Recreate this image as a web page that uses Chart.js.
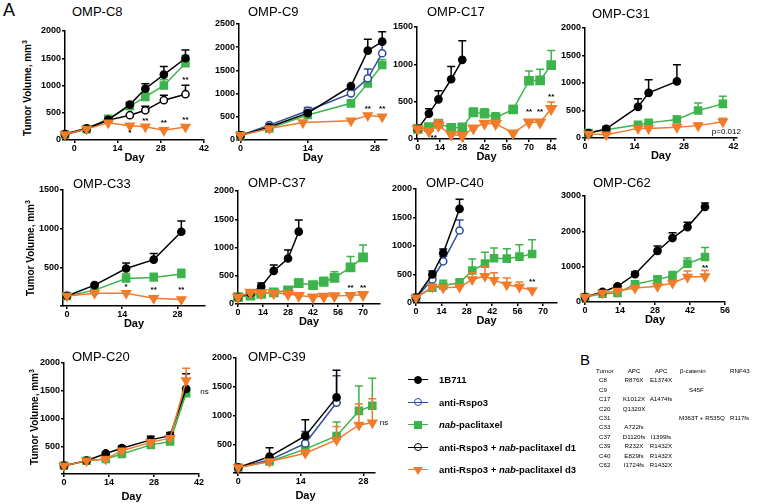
<!DOCTYPE html>
<html>
<head>
<meta charset="utf-8">
<script src="https://cdn.jsdelivr.net/npm/chart.js@4.4.0/dist/chart.umd.min.js"></script>
<style>
body{margin:0;background:#fff;width:760px;height:504px;position:relative;overflow:hidden;font-family:"Liberation Sans",Arial,sans-serif;color:#000}
canvas{position:absolute}
.t{position:absolute;white-space:nowrap;line-height:1}
.ttl{font-size:13px}
.day{font-size:11px;font-weight:bold;transform:translate(-50%,-50%)}
.ylab{font-size:10px;font-weight:bold;transform:translate(-50%,-50%) rotate(-90deg)}
.ylab sup{font-size:7px;vertical-align:4px;line-height:0}
.leg{font-size:9.5px;font-weight:bold}
.tb{font-size:6.2px}
</style>
</head>
<body>
<div class="t" style="left:3px;top:1px;font-size:18px">A</div>
<div class="t" id="labB" style="left:580px;top:352px;font-size:15px">B</div>
<script>
// ---- data (days, mean tumor volume, upper SEM) ----
const c8Days = [-3, 4, 11, 18, 23, 29, 36];
const c8Ctrl = [110, 215, 370, 650, 940, 1200, 1500];
const c8CtrlErr = [10, 15, 20, 30, 90, 150, 150];
const c8Nab = [100, 200, 390, 620, 790, 1000, 1410];
const c8NabErr = [10, 10, 15, 80, 75, 105, 140];
const c8D1 = [100, 200, 365, 455, 545, 730, 840];
const c8D1Err = [10, 10, 15, 20, 75, 90, 165];
const c8D3 = [100, 200, 315, 260, 245, 180, 240];
const c8D3Err = [10, 10, 15, 20, 25, 20, 25];

const c9Days = [0, 6, 14, 23, 26.5, 29.5];
const c9DaysD3 = [0, 6, 13, 23, 26.5, 29.5];
const c9Ctrl = [100, 280, 580, 1160, 1925, 2120];
const c9CtrlErr = [10, 20, 30, 25, 245, 215];
const c9Rspo = [100, 320, 630, 1005, 1330, 1870];
const c9RspoErr = [10, 15, 70, 85, 200, 230];
const c9Nab = [100, 250, 540, 790, 1220, 1615];
const c9NabErr = [10, 10, 70, 70, 70, 120];
const c9D3 = [100, 250, 375, 415, 530, 500];
const c9D3Err = [10, 10, 15, 15, 20, 15];

const c17DaysCtrl = [0, 7, 13, 21, 28];
const c17Days = [0, 7, 13, 21, 28, 35, 42, 49, 60, 70, 77, 84];
const c17Ctrl = [135, 340, 530, 800, 1060];
const c17CtrlErr = [0, 65, 115, 170, 255];
const c17Nab = [135, 160, 205, 150, 155, 355, 340, 285, 395, 780, 785, 990];
const c17NabErr = [0, 10, 45, 10, 10, 60, 65, 65, 55, 130, 150, 195];
const c17D3 = [135, 105, 180, 60, 45, 145, 210, 205, 80, 225, 225, 405];
const c17D3Err = [0, 10, 75, 10, 10, 10, 35, 45, 10, 20, 20, 90];

const c31DaysCtrl = [1, 6, 15, 18, 26];
const c31Days = [1, 6, 15, 18, 26, 32, 39];
const c31Ctrl = [90, 165, 565, 820, 1030];
const c31CtrlErr = [0, 20, 150, 240, 300];
const c31Nab = [90, 150, 240, 275, 335, 500, 620];
const c31NabErr = [0, 10, 20, 20, 60, 135, 140];
const c31D3 = [75, 60, 175, 175, 195, 225, 295];
const c31D3Err = [0, 0, 20, 15, 20, 50, 65];

const c33Days = [0, 7, 15, 22, 29];
const c33Ctrl = [130, 270, 485, 600, 960];
const c33CtrlErr = [0, 15, 70, 80, 140];
const c33Nab = [130, 205, 355, 370, 415];
const c33NabErr = [0, 10, 65, 55, 60];
const c33D3 = [130, 165, 165, 100, 85];
const c33D3Err = [0, 5, 5, 5, 5];

const c37DaysCtrl = [0, 7, 13, 20, 28, 34];
const c37Days = [0, 7, 13, 20, 28, 34, 42, 48, 54, 63, 70];
const c37Ctrl = [123, 190, 310, 585, 805, 1280];
const c37CtrlErr = [0, 10, 60, 105, 150, 205];
const c37Nab = [123, 147, 180, 205, 240, 370, 335, 393, 463, 650, 825];
const c37NabErr = [0, 10, 10, 10, 15, 70, 45, 80, 110, 190, 220];
const c37D3 = [123, 205, 195, 195, 180, 150, 123, 135, 145, 150, 165];
const c37D3Err = [0, 30, 30, 30, 35, 30, 30, 30, 30, 35, 35];

const c40DaysCtrl = [0, 9, 15, 24];
const c40Days = [0, 9, 15, 24, 31, 38, 43, 50, 57, 64];
const c40Ctrl = [93, 500, 877, 1650];
const c40CtrlErr = [0, 60, 70, 170];
const c40Rspo = [93, 413, 732, 1272];
const c40RspoErr = [0, 30, 90, 185];
const c40Nab = [93, 267, 308, 354, 569, 691, 784, 778, 813, 860];
const c40NabErr = [0, 10, 90, 70, 205, 200, 180, 175, 210, 250];
const c40D3 = [93, 279, 267, 279, 412, 471, 401, 320, 279, 221];
const c40D3Err = [0, 10, 10, 10, 120, 175, 130, 120, 90, 20];

const c62Days = [0, 7, 13, 20, 29, 35, 41, 48];
const c62Ctrl = [140, 285, 445, 785, 1445, 1810, 2120, 2690];
const c62CtrlErr = [0, 20, 30, 65, 140, 150, 140, 110];
const c62Nab = [140, 235, 255, 500, 640, 735, 1085, 1275];
const c62NabErr = [0, 10, 15, 30, 85, 130, 160, 265];
const c62D3 = [140, 255, 310, 395, 445, 540, 705, 725];
const c62D3Err = [0, 10, 15, 20, 30, 40, 170, 170];

const c20Days = [0, 7, 13, 18, 27, 33, 38];
const c20Ctrl = [150, 240, 370, 465, 615, 690, 1535];
const c20CtrlErr = [0, 10, 15, 40, 65, 60, 270];
const c20Nab = [150, 240, 270, 360, 525, 585, 1455];
const c20NabErr = [0, 10, 10, 15, 15, 20, 50];
const c20D3 = [150, 240, 270, 420, 570, 645, 1685];
const c20D3Err = [0, 10, 10, 20, 20, 20, 220];

const c39DaysCtrl = [0, 7, 15, 22];
const c39Days = [0, 7, 15, 22, 27, 30];
const c39Ctrl = [95, 285, 645, 1315];
const c39CtrlErr = [0, 155, 280, 470];
const c39Rspo = [95, 225, 515, 1225];
const c39RspoErr = [0, 40, 205, 465];
const c39Nab = [95, 200, 415, 645, 1080, 1170];
const c39NabErr = [0, 10, 100, 240, 435, 480];
const c39D3 = [95, 200, 345, 575, 835, 875];
const c39D3Err = [0, 10, 60, 235, 365, 415];

const seriesKeys = ['ctrl', 'rspo', 'nab', 'd1', 'd3'];
const seriesNames = ['1B711', 'anti-Rspo3', '<i>nab</i>-paclitaxel',
  'anti-Rspo3 + <i>nab</i>-paclitaxel d1', 'anti-Rspo3 + <i>nab</i>-paclitaxel d3'];

const tableHead = ['Tumor', 'APC', 'APC', 'β-catenin', 'RNF43'];
const tumors = ['C8', 'C9', 'C17', 'C20', 'C31', 'C33', 'C37', 'C39', 'C40', 'C62'];
const apc1 = ['R876X', '', 'K1012X', 'Q1320X', '', 'A722fs', 'D1120fs', 'R232X', 'E829fs', 'I1724fs'];
const apc2 = ['E1374X', '', 'A1474fs', '', '', '', 'I1399fs', 'R1432X', 'R1432X', 'R1432X'];
const ctnnb1 = ['', 'S45F', '', '', 'M363T + R535Q', '', '', '', '', ''];
const rnf43 = ['', '', '', '', 'R117fs', '', '', '', '', ''];

// ---- styles ----
const look = {
  ctrl: {c: '#000000', f: '#000000', s: 'circle', r: 3.6},
  rspo: {c: '#2f4c9c', f: '#ffffff', s: 'circle', r: 3.6, open: true},
  nab:  {c: '#3cb44b', f: '#3cb44b', s: 'rect', r: 5},
  d1:   {c: '#000000', f: '#ffffff', s: 'circle', r: 3.6, open: true},
  d3:   {c: '#f07c2a', f: '#f07c2a', s: 'triangle', r: 5, rot: 180}
};
const drawOrder = ['d3', 'ctrl', 'rspo', 'd1', 'nab']; // first = on top

const errorBars = {
  id: 'errorBars',
  beforeDatasetDraw(chart, args) {
    const ds = chart.data.datasets[args.index];
    if (!ds.err) return;
    const xs = chart.scales.x, ys = chart.scales.y, ctx = chart.ctx;
    ctx.save();
    ctx.strokeStyle = ds.borderColor;
    ctx.lineWidth = 1.5;
    ds.data.forEach((p, i) => {
      const e = ds.err[i];
      if (!e) return;
      const x = xs.getPixelForValue(p.x);
      const y0 = ys.getPixelForValue(p.y);
      const y1 = ys.getPixelForValue(p.y + e);
      ctx.beginPath();
      ctx.moveTo(x, y0); ctx.lineTo(x, y1);
      ctx.moveTo(x - 4, y1); ctx.lineTo(x + 4, y1);
      ctx.stroke();
    });
    ctx.restore();
  }
};

function notesPlugin(items) {
  return {
    id: 'notes',
    afterDraw(chart) {
      const ctx = chart.ctx;
      ctx.save();
      ctx.fillStyle = '#000';
      ctx.textAlign = 'center';
      ctx.textBaseline = 'middle';
      items.forEach(n => {
        ctx.font = n.bold === false ? '8px "Liberation Sans"' : 'bold 8px "Liberation Sans"';
        ctx.fillText(n.t, chart.scales.x.getPixelForValue(n.x), chart.scales.y.getPixelForValue(n.y));
      });
      ctx.restore();
    }
  };
}

const panels = [
  {title: 'OMP-C8', L: 65, R: 204, T: 31, B: 140, xr: [-3, 42], xt: [0, 14, 28, 42], ymax: 2000, ystep: 500, zero: true,
   tx: 72, ty: 5, ylab: [28, 88], dayDy: 17,
   series: [{k: 'ctrl', x: c8Days, y: c8Ctrl, e: c8CtrlErr}, {k: 'nab', x: c8Days, y: c8Nab, e: c8NabErr},
            {k: 'd1', x: c8Days, y: c8D1, e: c8D1Err}, {k: 'd3', x: c8Days, y: c8D3, e: c8D3Err}],
   notes: [{t: '*', x: 18, y: 135}, {t: '**', x: 23, y: 360}, {t: '**', x: 29, y: 320}, {t: '**', x: 36, y: 375}, {t: '**', x: 36, y: 1100}]},
  {title: 'OMP-C9', L: 239, R: 387, T: 24, B: 140, xr: [-0.3, 30.5], xt: [0, 14, 28], ymax: 2500, ystep: 500, zero: true,
   tx: 248, ty: 5, dayDy: 17,
   series: [{k: 'ctrl', x: c9Days, y: c9Ctrl, e: c9CtrlErr}, {k: 'rspo', x: c9Days, y: c9Rspo, e: c9RspoErr},
            {k: 'nab', x: c9Days, y: c9Nab, e: c9NabErr}, {k: 'd3', x: c9DaysD3, y: c9D3, e: c9D3Err}],
   notes: [{t: '**', x: 26.5, y: 680}, {t: '**', x: 29.5, y: 680}]},
  {title: 'OMP-C17', L: 417, R: 556, T: 27, B: 139, xr: [-0.5, 87], xt: [0, 14, 28, 42, 56, 70, 84], ymax: 1500, ystep: 500, zero: true,
   tx: 427, ty: 5, dayDy: 17, big: true,
   series: [{k: 'ctrl', x: c17DaysCtrl, y: c17Ctrl, e: c17CtrlErr}, {k: 'nab', x: c17Days, y: c17Nab, e: c17NabErr},
            {k: 'd3', x: c17Days, y: c17D3, e: c17D3Err}],
   notes: [{t: '**', x: 10, y: 20}, {t: '**', x: 70, y: 360}, {t: '**', x: 77, y: 360}, {t: '**', x: 84, y: 560}]},
  {title: 'OMP-C31', L: 585, R: 737, T: 28, B: 138, xr: [0, 43], xt: [0, 14, 28, 42], ymax: 2000, ystep: 500, zero: true,
   tx: 592, ty: 7, dayDy: 17,
   series: [{k: 'ctrl', x: c31DaysCtrl, y: c31Ctrl, e: c31CtrlErr}, {k: 'nab', x: c31Days, y: c31Nab, e: c31NabErr},
            {k: 'd3', x: c31Days, y: c31D3, e: c31D3Err}],
   notes: [{t: 'p=0.012', x: 40, y: 110, bold: false}]},
  {title: 'OMP-C33', L: 63, R: 205, T: 190, B: 306, xr: [-1, 35], xt: [0, 14, 28], ymax: 1500, ystep: 500, zero: false,
   tx: 73, ty: 177, ylab: [31, 248], dayDy: 17,
   series: [{k: 'ctrl', x: c33Days, y: c33Ctrl, e: c33CtrlErr}, {k: 'nab', x: c33Days, y: c33Nab, e: c33NabErr},
            {k: 'd3', x: c33Days, y: c33D3, e: c33D3Err}],
   notes: [{t: '*', x: 15, y: 250}, {t: '**', x: 22, y: 205}, {t: '**', x: 29, y: 205}]},
  {title: 'OMP-C37', L: 238, R: 380, T: 191, B: 304, xr: [0, 79.5], xt: [0, 14, 28, 42, 56, 70], ymax: 2000, ystep: 500, zero: true,
   tx: 248, ty: 176, dayDy: 17, big: true,
   series: [{k: 'ctrl', x: c37DaysCtrl, y: c37Ctrl, e: c37CtrlErr}, {k: 'nab', x: c37Days, y: c37Nab, e: c37NabErr},
            {k: 'd3', x: c37Days, y: c37D3, e: c37D3Err}],
   notes: [{t: '**', x: 63, y: 295}, {t: '**', x: 70, y: 280}]},
  {title: 'OMP-C40', L: 416, R: 557, T: 189, B: 303, xr: [0, 77.7], xt: [0, 14, 28, 42, 56, 70], ymax: 2000, ystep: 500, zero: true,
   tx: 426, ty: 176, dayDy: 17,
   series: [{k: 'ctrl', x: c40DaysCtrl, y: c40Ctrl, e: c40CtrlErr}, {k: 'rspo', x: c40DaysCtrl, y: c40Rspo, e: c40RspoErr},
            {k: 'nab', x: c40Days, y: c40Nab, e: c40NabErr}, {k: 'd3', x: c40Days, y: c40D3, e: c40D3Err}],
   notes: [{t: '**', x: 64, y: 366}]},
  {title: 'OMP-C62', L: 585, R: 725, T: 196, B: 302, xr: [0, 56], xt: [0, 14, 28, 42, 56], ymax: 3000, ystep: 1000, zero: true,
   tx: 593, ty: 176, dayDy: 17,
   series: [{k: 'ctrl', x: c62Days, y: c62Ctrl, e: c62CtrlErr}, {k: 'nab', x: c62Days, y: c62Nab, e: c62NabErr},
            {k: 'd3', x: c62Days, y: c62D3, e: c62D3Err}],
   notes: [{t: '**', x: 48, y: 970}]},
  {title: 'OMP-C20', L: 64, R: 199, T: 363, B: 474, xr: [0, 42], xt: [0, 14, 28, 42], ymax: 2000, ystep: 500, zero: false,
   tx: 72, ty: 350, ylab: [35, 417], dayDy: 22,
   series: [{k: 'ctrl', x: c20Days, y: c20Ctrl, e: c20CtrlErr}, {k: 'nab', x: c20Days, y: c20Nab, e: c20NabErr},
            {k: 'd3', x: c20Days, y: c20D3, e: c20D3Err}],
   notes: [{t: 'ns', x: 43.7, y: 1490, bold: false}]},
  {title: 'OMP-C39', L: 236, R: 375, T: 358, B: 473, xr: [-0.5, 30.6], xt: [0, 14, 28], ymax: 2000, ystep: 500, zero: false,
   tx: 248, ty: 350, dayDy: 22,
   series: [{k: 'ctrl', x: c39DaysCtrl, y: c39Ctrl, e: c39CtrlErr}, {k: 'rspo', x: c39DaysCtrl, y: c39Rspo, e: c39RspoErr},
            {k: 'nab', x: c39Days, y: c39Nab, e: c39NabErr}, {k: 'd3', x: c39Days, y: c39D3, e: c39D3Err}],
   notes: [{t: 'ns', x: 32.6, y: 870, bold: false}]}
];

const YW = 30, PT = 8, XH = 14, PR = 18;
const tickFont = {family: '"Liberation Sans", Arial, sans-serif', size: 9, weight: 'bold'};

function addText(cls, html, left, top) {
  const d = document.createElement('div');
  d.className = 't ' + cls;
  d.innerHTML = html;
  d.style.left = left + 'px';
  d.style.top = top + 'px';
  document.body.appendChild(d);
  return d;
}

panels.forEach(p => {
  const cv = document.createElement('canvas');
  cv.width = YW + (p.R - p.L) + PR;
  cv.height = PT + (p.B - p.T) + XH;
  cv.style.left = (p.L - YW) + 'px';
  cv.style.top = (p.T - PT) + 'px';
  document.body.appendChild(cv);

  const sorted = p.series.slice().sort((a, b) => drawOrder.indexOf(a.k) - drawOrder.indexOf(b.k));
  const datasets = sorted.map(s => {
    const lk = look[s.k];
    const r = (p.big && (s.k === 'nab' || s.k === 'd3')) ? lk.r + 0.8 : lk.r;
    return {
      data: s.x.map((d, i) => ({x: d, y: s.y[i]})),
      err: s.e,
      borderColor: lk.c,
      borderWidth: 1.5,
      pointStyle: lk.s,
      pointRadius: r,
      pointRotation: lk.rot || 0,
      pointBackgroundColor: lk.f,
      pointBorderColor: lk.c,
      pointBorderWidth: 1.5,
      tension: 0,
      clip: false
    };
  });

  new Chart(cv, {
    type: 'line',
    data: {datasets},
    options: {
      responsive: false,
      animation: false,
      devicePixelRatio: 1,
      layout: {padding: {left: 0, top: PT, right: PR, bottom: 0}},
      plugins: {legend: {display: false}, tooltip: {enabled: false}},
      scales: {
        x: {
          type: 'linear', min: p.xr[0], max: p.xr[1],
          afterBuildTicks: s => { s.ticks = p.xt.map(v => ({value: v})); },
          afterFit: s => { s.height = XH; },
          grid: {drawOnChartArea: false, drawTicks: true, tickLength: 3, color: '#000', lineWidth: 1.5},
          border: {display: true, color: '#000', width: 1.5},
          ticks: {font: tickFont, color: '#000', padding: 0, maxRotation: 0, autoSkip: false}
        },
        y: {
          type: 'linear', min: 0, max: p.ymax,
          afterFit: s => { s.width = YW; },
          grid: {drawOnChartArea: false, drawTicks: true, tickLength: 3, color: '#000', lineWidth: 1.5},
          border: {display: true, color: '#000', width: 1.5},
          ticks: {stepSize: p.ystep, font: tickFont, color: '#000', padding: 1,
                  callback: v => (v === 0 && !p.zero) ? '' : String(v)}
        }
      }
    },
    plugins: [errorBars, notesPlugin(p.notes)]
  });

  addText('ttl', p.title, p.tx, p.ty);
  addText('day', 'Day', (p.L + p.R) / 2, p.B + p.dayDy);
  if (p.ylab) addText('ylab', 'Tumor Volume, mm<sup>3</sup>', p.ylab[0], p.ylab[1]);
});

// ---- legend ----
seriesKeys.forEach((k, i) => {
  const lk = look[k];
  const cy = 380 + i * 22.5;
  const line = document.createElement('div');
  line.style.cssText = `position:absolute;left:408px;top:${cy - 0.75}px;width:20px;height:0;border-top:1.5px solid ${lk.c}`;
  document.body.appendChild(line);
  const m = document.createElement('div');
  if (lk.s === 'circle') {
    const bg = lk.open ? 'transparent' : lk.f;
    m.style.cssText = `position:absolute;left:${418 - 4.5}px;top:${cy - 4.5}px;width:6px;height:6px;border-radius:50%;border:1.5px solid ${lk.c};background:${bg}`;
  } else if (lk.s === 'rect') {
    m.style.cssText = `position:absolute;left:${418 - 4}px;top:${cy - 4}px;width:8px;height:8px;background:${lk.f}`;
  } else {
    m.style.cssText = `position:absolute;left:${418 - 5}px;top:${cy - 3.5}px;width:0;height:0;border-left:5px solid transparent;border-right:5px solid transparent;border-top:8px solid ${lk.f}`;
  }
  document.body.appendChild(m);
  const tx = addText('leg', seriesNames[i], 439, cy);
  tx.style.transform = 'translateY(-50%)';
});

// ---- table B ----
const colX = [599, 634, 661, 0, 730];
const rowY = i => 371 + i * 9.4;
function cell(txt, x, y, center) {
  if (!txt) return;
  const d = addText('tb', txt, x, y);
  d.style.transform = center ? 'translate(-50%,-50%)' : 'translateY(-50%)';
}
cell(tableHead[0], 596, rowY(0), false);
cell(tableHead[1], colX[1], rowY(0), true);
cell(tableHead[2], colX[2], rowY(0), true);
cell(tableHead[3], 680, rowY(0), false);
cell(tableHead[4], 730, rowY(0), false);
tumors.forEach((t, i) => {
  const y = rowY(i + 1);
  cell(t, colX[0], y, false);
  cell(apc1[i], colX[1], y, true);
  cell(apc2[i], colX[2], y, true);
  cell(ctnnb1[i], ctnnb1[i].length > 5 ? 679 : 689, y, false);
  cell(rnf43[i], colX[4], y, false);
});
</script>
</body>
</html>
